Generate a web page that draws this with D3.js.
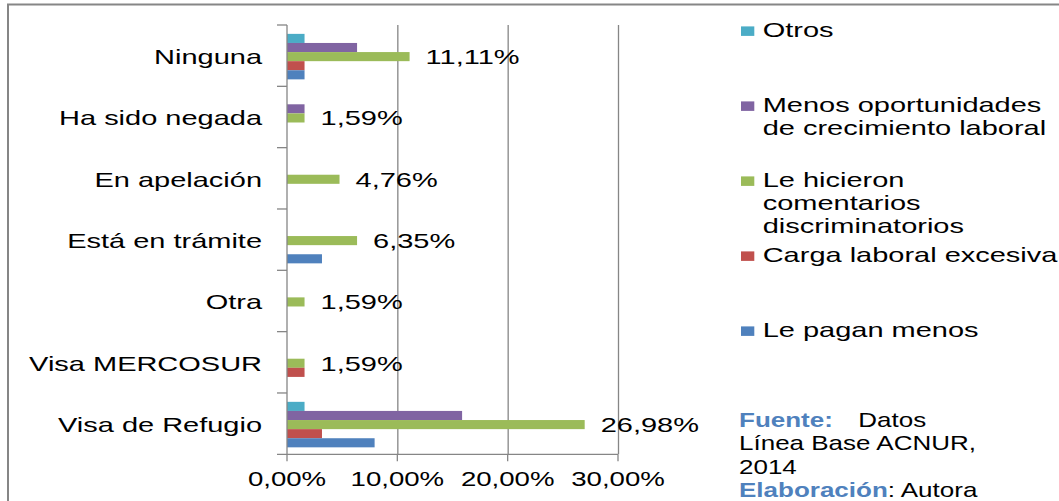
<!DOCTYPE html>
<html>
<head>
<meta charset="utf-8">
<script src="https://d3js.org/d3.v7.min.js"></script>
<style>
  body { margin: 0; background: #fff; }
  text { font-family: "Liberation Sans", Arial, sans-serif; font-size: 21px; fill: #000; }
  .tick-lab text, .note text { font-size: 20px; }
  .grid line { stroke: #868686; stroke-width: 1.3; }
  .grid path { stroke-width: 0; }
</style>
</head>
<body>
<div id="chart"></div>
<script>
  // categories, top to bottom
  const categories = ["Ninguna", "Ha sido negada", "En apelación", "Está en trámite", "Otra", "Visa MERCOSUR", "Visa de Refugio"];

  // series values (%), null = no bar
  const lePaganMenos = [1.59, null, null, 3.17, null, null, 7.94];
  const cargaLaboral = [1.59, null, null, null, null, 1.59, 3.17];
  const comentarios = [11.11, 1.59, 4.76, 6.35, 1.59, 1.59, 26.98];
  const menosOportunidades = [6.35, 1.59, null, null, null, null, 15.87];
  const otros = [1.59, null, null, null, null, null, 1.59];

  const xTicks = [0, 10, 20, 30];

  const series = [
    { key: "otros", name: ["Otros"], values: otros, color: "#4BACC6" },
    { key: "menos", name: ["Menos oportunidades", "de crecimiento laboral"], values: menosOportunidades, color: "#8064A2" },
    { key: "coment", name: ["Le hicieron", "comentarios", "discriminatorios"], values: comentarios, color: "#9BBB59", labels: true },
    { key: "carga", name: ["Carga laboral excesiva"], values: cargaLaboral, color: "#C0504D" },
    { key: "pagan", name: ["Le pagan menos"], values: lePaganMenos, color: "#4F81BD" }
  ];

  const W = 1059, H = 501;
  const SX = 1.38; // text in the source is stretched horizontally
  const fmt = d3.formatLocale({ decimal: ",", thousands: ".", grouping: [3], currency: ["", ""] }).format(".2f");

  const svg = d3.select("#chart").append("svg").attr("width", W).attr("height", H);

  // outer frame
  svg.append("rect").attr("x", 8).attr("y", 4.5).attr("width", W + 20).attr("height", H + 20)
    .attr("fill", "none").attr("stroke", "#868686").attr("stroke-width", 2);

  const plotTop = 25, plotBottom = 454.3;
  const x = d3.scaleLinear().domain([0, 30]).range([287, 618]);
  const y = d3.scaleBand().domain(categories).range([plotTop, plotBottom]);
  const sub = d3.scaleBand().domain(series.map(s => s.key)).range([0, y.bandwidth()]).paddingOuter(0.87).align(0.56);

  function stext(g, tx, ty, str, anchor, sx) {
    return g.append("text")
      .attr("transform", `translate(${tx},${ty}) scale(${sx || SX},1)`)
      .attr("text-anchor", anchor || "start")
      .text(str);
  }

  // gridlines
  svg.append("g").attr("class", "grid")
    .attr("transform", `translate(0,${plotBottom})`)
    .call(d3.axisBottom(x).tickValues(xTicks.slice(1)).tickSize(-(plotBottom - plotTop)).tickFormat(""));

  // bars
  series.forEach(s => {
    const pts = categories.map((c, i) => ({ c, v: s.values[i] })).filter(d => d.v != null);
    svg.append("g").selectAll("rect").data(pts).enter().append("rect")
      .attr("x", x(0))
      .attr("y", d => y(d.c) + sub(s.key))
      .attr("width", d => x(d.v) - x(0))
      .attr("height", sub.bandwidth())
      .attr("fill", s.color);
    if (s.labels) {
      const lg = svg.append("g");
      pts.forEach(d => stext(lg, x(d.v) + 16, y(d.c) + sub(s.key) + sub.bandwidth() / 2 + 7.5, fmt(d.v) + "%"));
    }
  });

  // axes
  const ax = svg.append("g").attr("stroke", "#868686").attr("stroke-width", 1.3);
  ax.append("line").attr("x1", x(0)).attr("x2", x(0)).attr("y1", plotTop).attr("y2", plotBottom);
  ax.append("line").attr("x1", x(0) - 10).attr("x2", x(30)).attr("y1", plotBottom).attr("y2", plotBottom);
  categories.forEach(c => {
    ax.append("line").attr("x1", x(0) - 10).attr("x2", x(0)).attr("y1", y(c)).attr("y2", y(c));
  });
  xTicks.forEach(t => {
    ax.append("line").attr("x1", x(t)).attr("x2", x(t)).attr("y1", plotBottom).attr("y2", plotBottom + 7);
  });

  const tl = svg.append("g").attr("class", "tick-lab");
  xTicks.forEach(t => stext(tl, x(t), plotBottom + 31.4, fmt(t) + "%", "middle"));
  const lab = svg.append("g");
  categories.forEach(c => stext(lab, 262, y(c) + y.bandwidth() / 2 + 8.5, c, "end"));

  // legend
  const leg = svg.append("g");
  series.forEach((s, i) => {
    const base = 36.9 + i * 75;
    leg.append("rect").attr("x", 741).attr("y", base - 10.5).attr("width", 13.3).attr("height", 9.5).attr("fill", s.color);
    s.name.forEach((ln, j) => stext(leg, 762.7, base + j * 23.2, ln));
  });

  // source note
  const note = svg.append("g").attr("class", "note");
  const NSX = 1.3;
  const t1 = stext(note, 739, 426.7, "", "start", NSX);
  t1.append("tspan").attr("font-weight", "bold").style("fill", "#4F81BD").text("Fuente:");
  t1.append("tspan").attr("x", 91.8).text("Datos");
  stext(note, 739, 450, "Línea Base ACNUR,", "start", NSX);
  stext(note, 739, 473.5, "2014", "start", NSX);
  const t4 = stext(note, 739, 497, "", "start", NSX);
  t4.append("tspan").attr("font-weight", "bold").style("fill", "#4F81BD").text("Elaboración");
  t4.append("tspan").text(": Autora");
</script>
</body>
</html>
